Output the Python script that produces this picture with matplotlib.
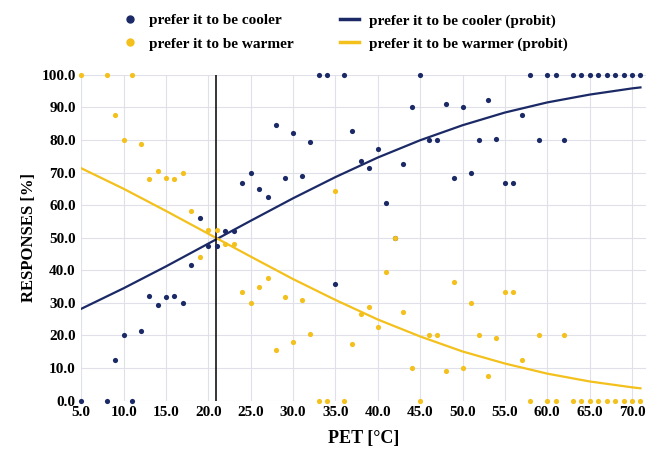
import matplotlib
matplotlib.use('Agg')
import matplotlib.pyplot as plt
from matplotlib.lines import Line2D

# ---- data ----
pet = [5, 8, 9, 10, 11, 12, 13, 14, 15, 16, 17, 18, 19, 20,
       21, 22, 23, 24, 25, 26, 27, 28, 29, 30,
       31, 32, 33, 34, 35, 36, 37, 38, 39, 40,
       41, 42, 43, 44, 45, 46, 47, 48, 49, 50,
       51, 52, 53, 54, 55, 56, 57, 58, 59, 60,
       61, 62, 63, 64, 65, 66, 67, 68, 69, 70, 71]

cooler = [0, 0, 12.5, 20, 0, 21.4, 32, 29.4, 31.8, 32, 30, 41.7, 56, 47.6,
          47.6, 52, 52, 66.7, 70, 65, 62.5, 84.6, 68.2, 82,
          69, 79.5, 100, 100, 35.7, 100, 82.6, 73.5, 71.4, 77.3,
          60.5, 50, 72.7, 90, 100, 80, 80, 91, 68.2, 90,
          70, 80, 92.3, 80.4, 66.7, 66.7, 87.5, 100, 80, 100,
          100, 80, 100, 100, 100, 100, 100, 100, 100, 100, 100]

warmer = [100, 100, 87.5, 80, 100, 78.6, 68, 70.6, 68.2, 68, 70, 58.3, 44, 52.4,
          52.4, 48, 48, 33.3, 30, 35, 37.5, 15.4, 31.8, 18,
          31, 20.5, 0, 0, 64.3, 0, 17.4, 26.5, 28.6, 22.7,
          39.5, 50, 27.3, 10, 0, 20, 20, 9, 36.4, 10,
          30, 20, 7.7, 19.2, 33.3, 33.3, 12.5, 0, 20, 0,
          0, 20, 0, 0, 0, 0, 0, 0, 0, 0, 0]

curve_pet = [5, 10, 15, 20, 25, 30, 35, 40, 45, 50, 55, 60, 65, 70, 71]
cooler_probit = [28.2, 34.5, 41.2, 48.2, 55.2, 62.1, 68.6, 74.6, 79.9, 84.5,
                 88.4, 91.5, 93.9, 95.8, 96.1]
warmer_probit = [71.3, 65.0, 58.2, 51.2, 44.2, 37.3, 30.9, 24.9, 19.7, 15.1,
                 11.4, 8.3, 5.9, 4.1, 3.8]

neutral_pet = 20.9

x_ticks = [5, 10, 15, 20, 25, 30, 35, 40, 45, 50, 55, 60, 65, 70]
y_ticks = [0, 10, 20, 30, 40, 50, 60, 70, 80, 90, 100]

label_cooler = "prefer it to be cooler"
label_warmer = "prefer it to be warmer"
label_cooler_p = "prefer it to be cooler (probit)"
label_warmer_p = "prefer it to be warmer (probit)"

# ---- style ----
navy = '#1b2a66'
yellow = '#f3c01c'
grid_c = '#e0e0ea'

plt.rcParams['font.family'] = ['Liberation Serif', 'DejaVu Serif']
plt.rcParams['font.weight'] = 'bold'

fig = plt.figure(figsize=(6.61, 4.49), dpi=100)
ax = fig.add_axes([0.123, 0.1076, 0.8536, 0.726])

ax.set_xlim(5, 71.6)
ax.set_ylim(0, 100)
ax.set_xticks(x_ticks)
ax.set_yticks(y_ticks)
ax.set_xticklabels([f"{v:.1f}" for v in x_ticks], fontsize=11, fontweight='bold')
ax.set_yticklabels([f"{v:.1f}" for v in y_ticks], fontsize=11, fontweight='bold')
ax.tick_params(axis='both', length=0)
ax.tick_params(axis='y', pad=4)
ax.tick_params(axis='x', pad=4)
for s in ax.spines.values():
    s.set_visible(False)
ax.grid(True, color=grid_c, linewidth=0.8)
ax.set_axisbelow(True)

ax.plot(curve_pet, cooler_probit, color=navy, linewidth=1.6, zorder=2)
ax.plot(curve_pet, warmer_probit, color=yellow, linewidth=1.6, zorder=2)
ax.axvline(neutral_pet, color='black', linewidth=1.1, zorder=3)

ax.scatter(pet, cooler, s=14, color=navy, zorder=4, clip_on=False, linewidths=0)
ax.scatter(pet, warmer, s=14, color=yellow, zorder=5, clip_on=False, linewidths=0)

ax.set_xlabel("PET [°C]", fontsize=13, fontweight='bold', labelpad=8)
ax.set_ylabel("RESPONSES [%]", fontsize=12, fontweight='bold', labelpad=3)

handles = [
    Line2D([], [], linestyle='none', marker='o', markersize=5, color=navy),
    Line2D([], [], linestyle='none', marker='o', markersize=5, color=yellow),
    Line2D([], [], color=navy, linewidth=2.5),
    Line2D([], [], color=yellow, linewidth=2.5),
]
labels = [label_cooler, label_warmer, label_cooler_p, label_warmer_p]
fig.legend(handles, labels, ncol=2, loc='center', bbox_to_anchor=(0.52, 0.928),
           frameon=False, prop={'family': 'Liberation Serif', 'weight': 'bold', 'size': 11},
           handlelength=1.3, columnspacing=3.0, labelspacing=0.62, handletextpad=0.6)

fig.savefig('out.png', dpi=100)
